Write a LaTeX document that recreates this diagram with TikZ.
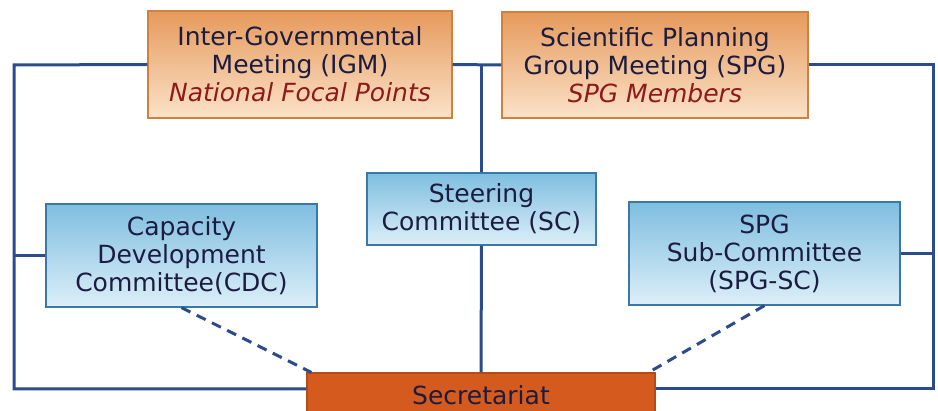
\documentclass[tikz,border=0pt]{standalone}
\usepackage{fontspec}
\setmainfont{DejaVu Sans}
\usepackage{xcolor}
\usetikzlibrary{positioning}
\definecolor{linkblue}{HTML}{2B4C8C}
\definecolor{inkblue}{HTML}{1C1C40}
\definecolor{subred}{HTML}{8E1A1A}
\definecolor{orgtop}{HTML}{E69A5C}
\definecolor{orgbot}{HTML}{FBE2C8}
\definecolor{orgline}{HTML}{D2803E}
\definecolor{bluetop}{HTML}{7FBEE0}
\definecolor{bluebot}{HTML}{DCEFF8}
\definecolor{blueline}{HTML}{3A78A8}
\definecolor{secfill}{HTML}{D45A1E}

\begin{document}
\begin{tikzpicture}[
      x=1pt,y=-1pt,
      meetbox/.style={draw=orgline,line width=1.2pt,top color=orgtop,bottom color=orgbot,
        align=center,inner sep=0pt,text=inkblue},
      combox/.style={draw=blueline,line width=1.2pt,top color=bluetop,bottom color=bluebot,
        align=center,inner sep=0pt,text=inkblue},
      secbox/.style={draw=secfill!85!black,line width=1.2pt,fill=secfill,inner sep=0pt,text=inkblue},
      link/.style={draw=linkblue,line width=3pt},
      dlink/.style={draw=linkblue,line width=3pt,dash pattern=on 10pt off 7pt},
      font=\fontsize{25}{28}\selectfont
]
\useasboundingbox (0,0) rectangle (938,411);
\fill[white] (0,0) rectangle (938,411);
\clip (0,0) rectangle (938,411);

% top row
\node[meetbox,minimum width=304pt,minimum height=107pt] (igm) at (300,64.5)
  {Inter-Governmental\\Meeting (IGM)\\\textcolor{subred}{\itshape National Focal Points}};
\node[meetbox,minimum width=306pt,minimum height=106pt] (spg) at (655,65)
  {Scientific Planning\\Group Meeting (SPG)\\\textcolor{subred}{\itshape SPG Members}};

% committees
\node[combox,minimum width=229pt,minimum height=72pt] (sc) at (481.5,209)
  {Steering\\Committee (SC)};
\node[combox,minimum width=271pt,minimum height=103pt] (cdc) at (181.5,255.5)
  {Capacity\\Development\\Committee(CDC)};
\node[combox,minimum width=271pt,minimum height=103pt] (spgsc) at (764.5,253.5)
  {SPG\\Sub-Committee\\(SPG-SC)};

% secretariat
\node[secbox,minimum width=348pt,minimum height=44pt] (sec) at (481,395) {Secretariat};

% frame corners
\coordinate (tl) at (14,65);
\coordinate (bl) at (14,389);
\coordinate (tr) at (933,65);
\coordinate (br) at (933,389);

\draw[link] (igm.west) -- (tl) -- (bl) -- (bl -| sec.west);
\draw[link] (spg.east) -- (tr) -- (br) -- (br -| sec.east);
\draw[link] (igm.east) -- (spg.west);
\draw[link] (sc.north) -- (sc.north |- igm.east);
\draw[link] (sc.south) -- (sec.north);
\draw[link] (cdc.west) -- (cdc.west -| tl);
\draw[link] (spgsc.east) -- (spgsc.east -| tr);
\draw[dlink] (cdc.south) -- ([xshift=5pt]sec.north west);
\draw[dlink] (spgsc.south) -- ([xshift=-7pt]sec.north east);
\end{tikzpicture}
\end{document}
